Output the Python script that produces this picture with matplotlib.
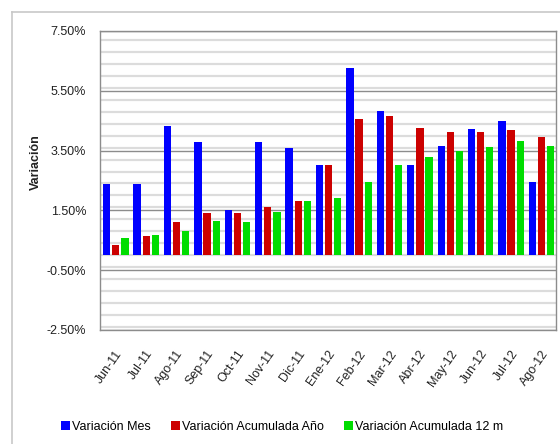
import numpy as np
import matplotlib.pyplot as plt
from matplotlib.lines import Line2D
from matplotlib.ticker import MultipleLocator, FuncFormatter

plt.rcParams['font.family'] = ['Liberation Sans', 'DejaVu Sans']

meses = ["Jun-11", "Jul-11", "Ago-11", "Sep-11", "Oct-11", "Nov-11", "Dic-11",
         "Ene-12", "Feb-12", "Mar-12", "Abr-12", "May-12", "Jun-12", "Jul-12", "Ago-12"]
var_mes = [2.37, 2.37, 4.31, 3.78, 1.51, 3.78, 3.57, 3.03, 6.26, 4.81, 3.01, 3.67, 4.22, 4.50, 2.46]
var_acum_anio = [0.34, 0.64, 1.12, 1.40, 1.40, 1.62, 1.81, 3.03, 4.57, 4.67, 4.26, 4.11, 4.12, 4.18, 3.96]
var_acum_12m = [0.57, 0.68, 0.80, 1.14, 1.11, 1.44, 1.80, 1.90, 2.46, 3.03, 3.29, 3.48, 3.63, 3.81, 3.67]

series = [
    ("Variación Mes", var_mes, "#0000FF"),
    ("Variación Acumulada Año", var_acum_anio, "#CC0000"),
    ("Variación Acumulada 12 m", var_acum_12m, "#00DD00"),
]

fig = plt.figure(figsize=(5.6, 4.44), dpi=100)
ax = fig.add_axes([0.1786, 0.2568, 0.8144, 0.6734])

# marco exterior del área del gráfico
fig.add_artist(Line2D([12 / 560, 1.0], [1 - 12 / 444, 1 - 12 / 444],
                      transform=fig.transFigure, color="#c8c8c8", lw=1.2))
fig.add_artist(Line2D([12 / 560, 12 / 560], [0.0, 1 - 12 / 444],
                      transform=fig.transFigure, color="#c8c8c8", lw=1.2))

x = np.arange(len(meses))
paso = 0.30
ancho = 0.24
for i, (nombre, vals, color) in enumerate(series):
    ax.bar(x + (i - 1) * paso + 0.02, vals, width=ancho, color=color,
           label=nombre, zorder=3)

ax.set_xlim(-0.5, len(meses) - 0.5)
ax.set_ylim(-2.5, 7.5)
ax.set_yticks(np.arange(-2.5, 7.51, 2.0))
ax.yaxis.set_minor_locator(MultipleLocator(0.4))
ax.yaxis.set_major_formatter(FuncFormatter(lambda v, p: f"{v:.2f}%"))

ax.grid(axis="y", which="minor", color="#dcdcdc", lw=1.6, zorder=0)
ax.grid(axis="y", which="major", color="#8c8c8c", lw=1.0, zorder=1)

for s in ax.spines.values():
    s.set_color("#8c8c8c")
    s.set_linewidth(1.0)

ax.set_xticks(x)
ax.set_xticklabels(meses, rotation=55, ha="right", va="top",
                   rotation_mode="anchor", fontsize=9, color="#222222")
ax.tick_params(axis="both", which="both", length=0)
ax.tick_params(axis="x", pad=13)
ax.tick_params(axis="y", pad=10, labelsize=9, labelcolor="#222222")

ax.set_ylabel("Variación", fontsize=9, fontweight="bold", color="#222222")
ax.yaxis.set_label_coords(-0.128, 0.56)

fig.legend(loc="center", bbox_to_anchor=(0.504, 0.038), ncol=3, frameon=False,
           fontsize=9, handlelength=0.7, handleheight=0.7, handletextpad=0.2,
           columnspacing=1.6, borderaxespad=0)

fig.savefig("out.png", dpi=100)
